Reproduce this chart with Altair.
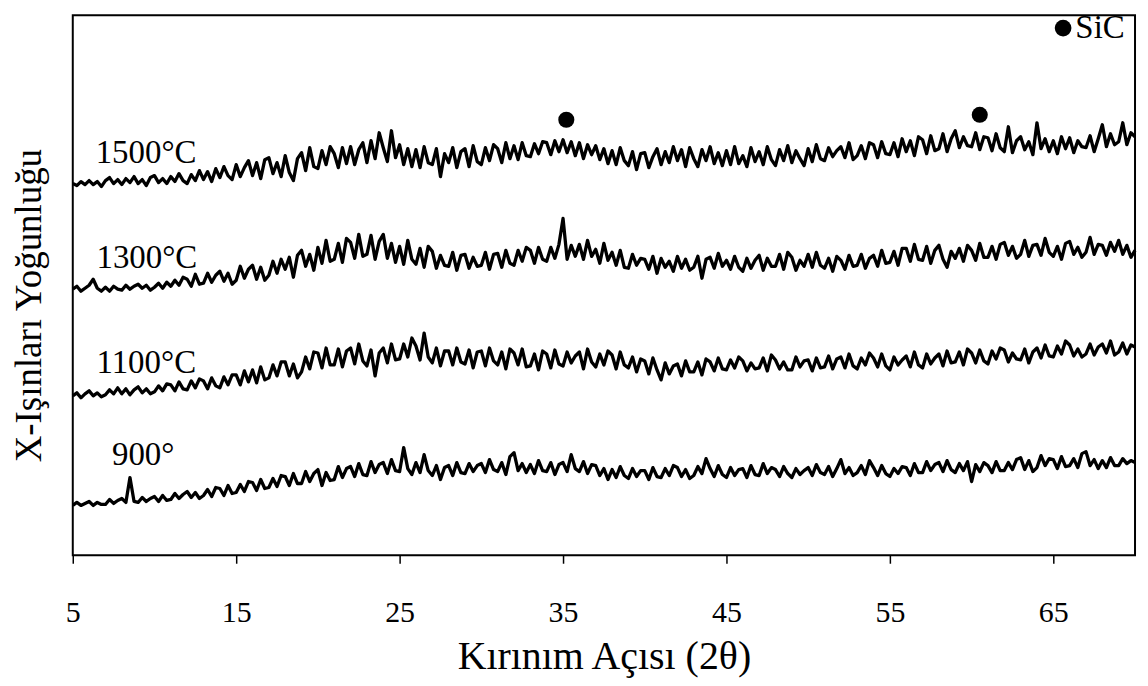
import altair as alt
import pandas as pd

# ---------------- data ----------------
start_angle = 5.0
angle_step = 0.25

i1500 = [
    373, 371, 375, 372, 376, 372, 375, 370, 376, 379, 373, 377, 372, 378, 374, 380,
    373, 377, 371, 379, 381, 374, 378, 373, 380, 375, 383, 376, 373, 382, 376, 386,
    377, 385, 375, 388, 379, 390, 381, 377, 392, 380, 389, 396, 381, 394, 378, 397,
    399, 383, 394, 380, 401, 384, 376, 398, 404, 386, 409, 390, 388, 406, 392, 410,
    403, 389, 409, 393, 410, 392, 407, 414, 394, 416, 398, 424, 409, 395, 426, 399,
    412, 392, 408, 390, 407, 389, 410, 394, 392, 408, 380, 403, 394, 409, 389, 405,
    408, 390, 411, 395, 392, 409, 396, 412, 408, 394, 414, 398, 411, 397, 414, 401,
    400, 413, 403, 415, 414, 402, 416, 405, 417, 404, 415, 401, 414, 398, 412, 402,
    411, 397, 408, 393, 406, 392, 409, 396, 391, 405, 387, 403, 404, 389, 400, 408,
    392, 405, 394, 410, 396, 407, 390, 409, 398, 390, 407, 396, 410, 393, 404, 391,
    406, 392, 410, 393, 401, 390, 409, 395, 405, 392, 410, 397, 391, 407, 396, 411,
    394, 406, 398, 391, 408, 395, 412, 398, 396, 409, 400, 406, 410, 399, 414, 397,
    401, 411, 398, 414, 412, 399, 415, 403, 402, 414, 400, 418, 405, 416, 401, 420,
    417, 403, 421, 406, 408, 423, 405, 418, 426, 409, 420, 411, 410, 424, 407, 420,
    419, 406, 423, 409, 405, 430, 404, 416, 420, 407, 415, 402, 434, 408, 418, 405,
    416, 403, 420, 408, 419, 404, 416, 410, 409, 421, 405, 418, 432, 410, 423, 412,
    415, 434, 412, 424, 420,
]

i1300 = [
    267, 270, 265, 268, 271, 277, 268, 265, 269, 265, 270, 267, 266, 271, 267, 270,
    272, 268, 271, 266, 269, 273, 268, 274, 270, 276, 271, 279, 277, 270, 282, 272,
    273, 283, 274, 281, 285, 275, 283, 272, 276, 290, 278, 287, 291, 277, 289, 276,
    281, 295, 283, 297, 287, 299, 279, 301, 306, 290, 302, 286, 309, 293, 316, 295,
    297, 313, 294, 318, 314, 298, 322, 300, 302, 321, 297, 315, 322, 298, 313, 294,
    310, 292, 316, 297, 292, 308, 289, 310, 305, 288, 301, 291, 290, 304, 286, 301,
    302, 288, 299, 290, 291, 304, 287, 302, 303, 289, 306, 293, 291, 306, 295, 309,
    306, 293, 309, 297, 295, 309, 298, 312, 338, 297, 311, 300, 312, 297, 316, 300,
    307, 293, 313, 296, 304, 291, 306, 289, 288, 302, 291, 298, 297, 287, 300, 283,
    298, 289, 295, 285, 300, 288, 297, 286, 289, 300, 278, 297, 299, 288, 303, 290,
    296, 287, 300, 289, 285, 298, 288, 296, 301, 286, 298, 290, 290, 302, 287, 304,
    299, 286, 296, 290, 302, 289, 304, 291, 288, 298, 285, 300, 296, 287, 301, 290,
    291, 302, 288, 298, 301, 290, 306, 293, 294, 305, 291, 308, 308, 295, 312, 297,
    296, 310, 293, 306, 311, 297, 289, 305, 298, 308, 295, 311, 306, 296, 313, 299,
    299, 310, 297, 312, 314, 301, 310, 298, 302, 316, 300, 311, 312, 301, 318, 304,
    300, 310, 297, 313, 315, 302, 309, 299, 304, 319, 302, 312, 311, 301, 314, 305,
    316, 302, 311, 299, 306,
]

i1100 = [
    160, 163, 158, 162, 165, 160, 163, 159, 161, 166, 162, 168, 162, 167, 161, 166,
    169, 163, 167, 162, 164, 170, 165, 172, 171, 165, 174, 167, 166, 175, 168, 177,
    175, 167, 178, 170, 168, 179, 171, 181, 181, 171, 185, 174, 186, 173, 189, 176,
    178, 191, 180, 194, 194, 180, 192, 178, 184, 199, 187, 204, 203, 188, 208, 191,
    191, 207, 189, 205, 208, 192, 212, 195, 190, 206, 180, 203, 208, 193, 212, 196,
    197, 212, 199, 218, 210, 196, 223, 199, 193, 208, 190, 205, 205, 191, 208, 194,
    192, 206, 188, 204, 205, 190, 208, 195, 191, 204, 187, 207, 203, 191, 207, 189,
    190, 202, 186, 205, 202, 188, 206, 192, 190, 204, 193, 200, 204, 187, 207, 194,
    189, 202, 191, 205, 201, 187, 204, 191, 188, 199, 184, 197, 195, 182, 198, 186,
    176, 193, 182, 190, 192, 180, 195, 184, 184, 194, 181, 197, 194, 185, 198, 187,
    186, 196, 188, 199, 195, 185, 193, 187, 188, 198, 185, 201, 196, 187, 194, 186,
    186, 199, 189, 195, 196, 185, 198, 188, 189, 200, 187, 197, 199, 188, 202, 190,
    187, 198, 191, 203, 198, 189, 202, 190, 186, 199, 191, 196, 200, 189, 204, 191,
    188, 202, 192, 198, 202, 190, 205, 193, 194, 204, 191, 207, 203, 193, 206, 195,
    192, 205, 197, 208, 206, 194, 203, 197, 196, 207, 193, 204, 208, 198, 211, 200,
    199, 210, 202, 215, 211, 200, 207, 199, 202, 212, 201, 209, 212, 203, 215, 201,
    204, 213, 202, 211, 209,
]

i900 = [
    50, 53, 50, 52, 54, 50, 53, 51, 51, 56, 52, 55, 57, 53, 78, 54,
    53, 58, 54, 57, 59, 54, 60, 55, 56, 62, 57, 61, 64, 58, 63, 57,
    60, 66, 59, 68, 67, 60, 70, 62, 63, 71, 64, 74, 73, 65, 76, 67,
    68, 77, 69, 80, 79, 70, 82, 72, 72, 84, 74, 82, 86, 70, 83, 75,
    76, 89, 78, 87, 89, 79, 92, 81, 80, 94, 83, 91, 93, 82, 96, 85,
    84, 108, 87, 81, 93, 83, 101, 85, 80, 90, 76, 88, 90, 80, 93, 83,
    82, 92, 84, 90, 92, 83, 96, 86, 84, 93, 81, 99, 103, 85, 92, 83,
    91, 82, 95, 85, 84, 93, 81, 91, 93, 84, 101, 87, 84, 94, 82, 91,
    90, 80, 87, 76, 86, 78, 89, 80, 77, 87, 79, 85, 85, 76, 88, 79,
    78, 87, 80, 90, 88, 79, 86, 77, 80, 89, 82, 97, 87, 79, 90, 81,
    78, 88, 80, 86, 87, 78, 90, 81, 80, 92, 82, 88, 86, 79, 89, 82,
    78, 87, 81, 85, 88, 80, 91, 83, 81, 89, 79, 87, 96, 82, 88, 80,
    83, 90, 81, 95, 88, 80, 90, 82, 79, 87, 82, 89, 88, 80, 92, 83,
    83, 94, 85, 91, 93, 84, 95, 86, 83, 92, 85, 94, 74, 91, 84, 93,
    90, 83, 94, 85, 85, 93, 86, 96, 98, 86, 95, 84, 88, 100, 90, 97,
    96, 87, 99, 89, 90, 97, 88, 102, 104, 90, 96, 87, 95, 88, 98, 90,
    90, 97, 92, 95, 93,
]

series_names = ["1500°C", "1300°C", "1100°C", "900°"]
series_values = [i1500, i1300, i1100, i900]

label_text = ["1500°C", "1300°C", "1100°C", "900°"]
label_angle = [6.4, 6.45, 6.45, 7.4]
label_intensity = [404, 298, 193, 101]

sic_peak_angle = [35.2, 60.5]
sic_peak_intensity = [437, 442]

legend_marker_angle = [65.6]
legend_marker_intensity = [529]
legend_text = ["SiC"]
legend_text_angle = [66.35]

x_ticks = [5, 15, 25, 35, 45, 55, 65]

# ---------------- tables ----------------
rows = []
for name, vals in zip(series_names, series_values):
    for k, v in enumerate(vals):
        rows.append({"angle": start_angle + k * angle_step, "intensity": v, "series": name})
df_lines = pd.DataFrame(rows)

df_labels = pd.DataFrame({"angle": label_angle, "intensity": label_intensity, "text": label_text})
df_peaks = pd.DataFrame({"angle": sic_peak_angle, "intensity": sic_peak_intensity})
df_leg_dot = pd.DataFrame({"angle": legend_marker_angle, "intensity": legend_marker_intensity})
df_leg_txt = pd.DataFrame({"angle": legend_text_angle, "intensity": legend_marker_intensity, "text": legend_text})

FONT = "Liberation Serif"
xscale = alt.Scale(domain=[5, 70], nice=False, zero=False)
yscale = alt.Scale(domain=[0, 542], nice=False, zero=False)

x_enc = alt.X(
    "angle:Q",
    scale=xscale,
    axis=alt.Axis(
        values=x_ticks,
        title="Kırınım Açısı (2θ)",
        grid=False,
        domain=False,
        ticks=True,
        tickSize=8,
        tickWidth=1.5,
        tickColor="black",
        labelFontSize=30,
        labelPadding=34,
        titleFontSize=40,
        titlePadding=10,
        labelFlush=False,
    ),
)
y_enc = alt.Y(
    "intensity:Q",
    scale=yscale,
    axis=alt.Axis(
        title="X-Işınları Yoğunluğu",
        labels=False,
        ticks=False,
        domain=False,
        grid=False,
        titleFontSize=37,
        titlePadding=24,
        titleY=291,
    ),
)

lines = alt.Chart(df_lines).mark_line(color="black", strokeWidth=3.3, strokeJoin="round").encode(
    x=x_enc, y=y_enc, detail="series:N"
)

labels = alt.Chart(df_labels).mark_text(
    align="left", baseline="middle", font=FONT, fontSize=33, color="black"
).encode(x=alt.X("angle:Q", scale=xscale), y=alt.Y("intensity:Q", scale=yscale), text="text:N")

peaks = alt.Chart(df_peaks).mark_point(
    shape="circle", filled=True, size=260, color="black", opacity=1
).encode(x=alt.X("angle:Q", scale=xscale), y=alt.Y("intensity:Q", scale=yscale))

leg_dot = alt.Chart(df_leg_dot).mark_point(
    shape="circle", filled=True, size=280, color="black", opacity=1
).encode(x=alt.X("angle:Q", scale=xscale), y=alt.Y("intensity:Q", scale=yscale))

leg_txt = alt.Chart(df_leg_txt).mark_text(
    align="left", baseline="middle", font=FONT, fontSize=33, color="black"
).encode(x=alt.X("angle:Q", scale=xscale), y=alt.Y("intensity:Q", scale=yscale), text="text:N")

chart = (
    alt.layer(lines, labels, peaks, leg_dot, leg_txt)
    .properties(
        width=1066,
        height=542,
        autosize=alt.AutoSizeParams(type="none"),
        padding={"left": 65, "top": 6, "right": 5, "bottom": 128},
        background="white",
    )
    .configure_view(stroke="black", strokeWidth=2)
    .configure_axis(
        labelFont=FONT,
        titleFont=FONT,
        labelColor="black",
        titleColor="black",
        titleFontWeight="normal",
    )
)

chart.save("out.html", embed_options={"renderer": "svg", "actions": False})
